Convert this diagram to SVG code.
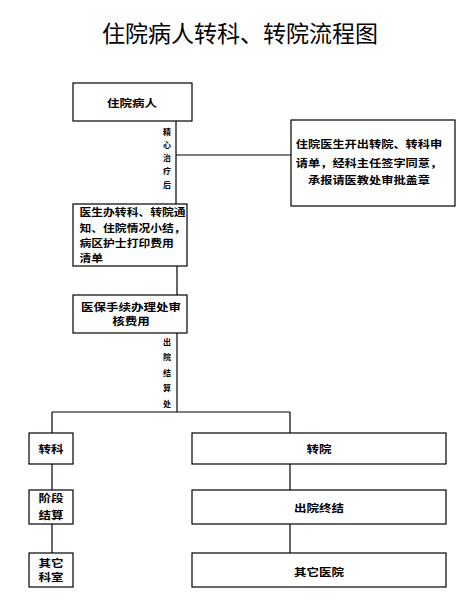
<svg xmlns="http://www.w3.org/2000/svg" width="469" height="614" viewBox="0 0 469 614">
<style>
.box{fill:#fff;stroke:#000;stroke-width:1.2}
.ln{stroke:#000;stroke-width:1.2;fill:none}
text{font-family:"Noto Sans CJK SC","Noto Sans CJK TC",sans-serif;fill:#000}
.t{font-size:12.5px;font-weight:bold}
.m{text-anchor:middle}
.s{font-size:8px;font-weight:bold;text-anchor:middle}
.title{font-size:23px}
</style>
<rect width="469" height="614" fill="#fff"/>
<text class="title" x="240" y="42" text-anchor="middle">住院病人转科、转院流程图</text>
<g id="connectors">
<line class="ln" x1="176" y1="121" x2="176" y2="204"/>
<line class="ln" x1="176" y1="155" x2="291" y2="155"/>
<line class="ln" x1="177" y1="266" x2="177" y2="295"/>
<line class="ln" x1="177" y1="333" x2="177" y2="412"/>
<line class="ln" x1="52" y1="412" x2="290" y2="412"/>
<line class="ln" x1="52" y1="412" x2="52" y2="433"/>
<line class="ln" x1="290" y1="412" x2="290" y2="433"/>
<line class="ln" x1="52" y1="464" x2="52" y2="490"/>
<line class="ln" x1="52" y1="524" x2="52" y2="553"/>
<line class="ln" x1="290" y1="464" x2="290" y2="490"/>
<line class="ln" x1="290" y1="524" x2="290" y2="553"/>
<g>
<text class="s" x="167" y="135">精</text><text class="s" x="167" y="148">心</text><text class="s" x="167" y="161">治</text><text class="s" x="167" y="174">疗</text><text class="s" x="167" y="188">后</text>
<text class="s" x="167" y="345">出</text><text class="s" x="167" y="360">院</text><text class="s" x="167" y="376">结</text><text class="s" x="167" y="391">算</text><text class="s" x="167" y="407">处</text>
</g>
</g>
<g id="n1"><rect class="box" x="73" y="83" width="119" height="38"/><text class="t m" transform="translate(132,107) scale(1,0.85)">住院病人</text></g>
<g id="n2"><rect class="box" x="291" y="120" width="164" height="86"/>
<text class="t m" style="font-size:12.2px" transform="translate(369,148) scale(1,0.85)">住院医生开出转院、转科申</text>
<text class="t m" style="font-size:12.2px" transform="translate(369,167) scale(1,0.85)">请单，经科主任签字同意，</text>
<text class="t m" style="font-size:12.2px" transform="translate(369,184) scale(1,0.85)">承报请医教处审批盖章</text></g>
<g id="n3"><rect class="box" x="73" y="204" width="114" height="62"/>
<text class="t" style="font-size:11.8px" transform="translate(79.5,216) scale(1,0.85)">医生办转科、转院通</text>
<text class="t" style="font-size:11.8px" transform="translate(79.5,232) scale(1,0.85)">知、住院情况小结，</text>
<text class="t" style="font-size:11.8px" transform="translate(79.5,247) scale(1,0.85)">病区护士打印费用</text>
<text class="t" style="font-size:11.8px" transform="translate(79.5,262) scale(1,0.85)">清单</text></g>
<g id="n4"><rect class="box" x="73" y="295" width="114" height="38"/>
<text class="t m" transform="translate(131,311) scale(1,0.85)">医保手续办理处审</text>
<text class="t m" transform="translate(131,325) scale(1,0.85)">核费用</text></g>
<g id="n5"><rect class="box" x="29" y="433" width="44" height="31"/><text class="t m" transform="translate(51,453) scale(1,0.85)">转科</text></g>
<g id="n6"><rect class="box" x="192" y="433" width="254" height="31"/><text class="t m" transform="translate(319,453) scale(1,0.85)">转院</text></g>
<g id="n7"><rect class="box" x="29" y="490" width="44" height="34"/><text class="t m" transform="translate(51,502) scale(1,0.85)">阶段</text><text class="t m" transform="translate(51,519) scale(1,0.85)">结算</text></g>
<g id="n8"><rect class="box" x="192" y="490" width="254" height="34"/><text class="t m" transform="translate(319,512) scale(1,0.85)">出院终结</text></g>
<g id="n9"><rect class="box" x="29" y="553" width="44" height="34"/><text class="t m" transform="translate(51,567) scale(1,0.85)">其它</text><text class="t m" transform="translate(51,581) scale(1,0.85)">科室</text></g>
<g id="n10"><rect class="box" x="192" y="553" width="254" height="34"/><text class="t m" transform="translate(319,576) scale(1,0.85)">其它医院</text></g>
</svg>
